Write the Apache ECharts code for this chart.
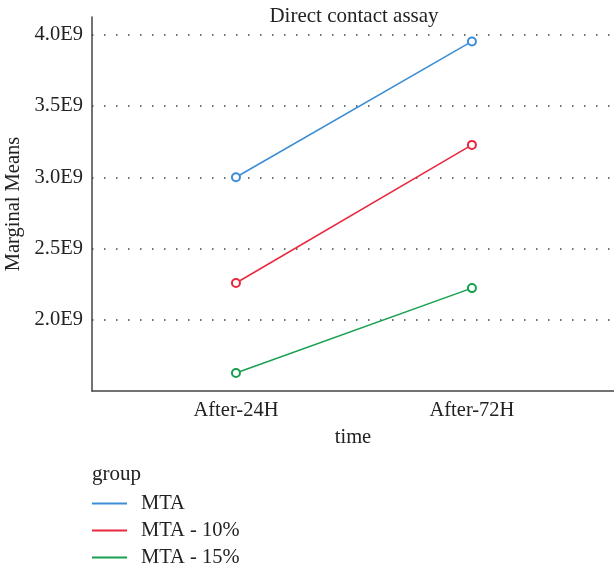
<!DOCTYPE html>
<html><head><meta charset="utf-8">
<script src="https://cdn.jsdelivr.net/npm/echarts@6/dist/echarts.min.js"></script>
<style>html,body{margin:0;padding:0;background:#fff}#c{width:614px;height:569px}</style>
</head><body><div id="c"></div>
<script>
const categories = ['After-24H', 'After-72H'];
const groups = ['MTA', 'MTA - 10%', 'MTA - 15%'];
const mta = [3.0e9, 3.953e9];
const mta10 = [2.258e9, 3.227e9];
const mta15 = [1.626e9, 2.222e9];
const yTicks = [2.0e9, 2.5e9, 3.0e9, 3.5e9, 4.0e9];
const colors = ['#3a8dd6', '#e8283f', '#16a04f'];
const seriesValues = [mta, mta10, mta15];

const font = 'Liberation Serif';
const fs = 20.5;
const chart = echarts.init(document.getElementById('c'));
chart.setOption({
  animation: false,
  title: { text: 'Direct contact assay', left: 354, textAlign: 'center', top: 6, padding: 0,
    textStyle: { fontFamily: font, fontSize: 21, fontWeight: 'normal', color: '#222' } },
  grid: { left: 92, right: 0, top: 17, bottom: 178, containLabel: false, outerBoundsMode: 'none' },
  legend: { orient: 'vertical', left: 92, top: 493, height: 120, padding: 0, icon: 'rect', itemWidth: 35, itemHeight: 2,
    itemGap: 6, textStyle: { fontFamily: font, fontSize: fs, lineHeight: 21, color: '#222', padding: [0,0,0,9] },
    data: groups },
  graphic: [{ type: 'text', left: 92, top: 464, style: { text: 'group', fontFamily: font, fontSize: 21, fill: '#222' } }],
  xAxis: { type: 'value', min: -0.61, max: 1.602,
    name: 'time', nameLocation: 'middle', nameGap: 36,
    nameTextStyle: { fontFamily: font, fontSize: fs, color: '#222' },
    axisLine: { onZero: false, lineStyle: { color: '#444', width: 1.5 } },
    axisTick: { show: false }, splitLine: { show: false },
    axisLabel: { customValues: [0, 1], formatter: v => categories[Math.round(v)] || '',
      fontFamily: font, fontSize: fs, color: '#222', margin: 9 } },
  yAxis: { type: 'value', min: 1.5e9, max: 4.1246e9, interval: 0.5e9,
    name: 'Marginal Means', nameLocation: 'middle', nameGap: 63,
    nameTextStyle: { fontFamily: font, fontSize: fs, color: '#222' },
    axisLine: { show: true, onZero: false, lineStyle: { color: '#444', width: 1.5 } },
    axisTick: { show: false },
    axisLabel: { customValues: yTicks, formatter: v => (v / 1e9).toFixed(1) + 'E9',
      fontFamily: font, fontSize: fs, color: '#222', margin: 9 },
    splitLine: { show: true, showMinLine: false, showMaxLine: false,
      lineStyle: { color: '#444', width: 1.5, type: [1.5, 10.5] } } },
  series: groups.map((g, i) => ({
    name: g, type: 'line', data: seriesValues[i].map((v, j) => [j, v]),
    symbol: 'emptyCircle', symbolSize: 8, color: colors[i],
    lineStyle: { width: 1.5, color: colors[i] },
    itemStyle: { color: colors[i], borderWidth: 1.5 }
  }))
});
</script></body></html>
